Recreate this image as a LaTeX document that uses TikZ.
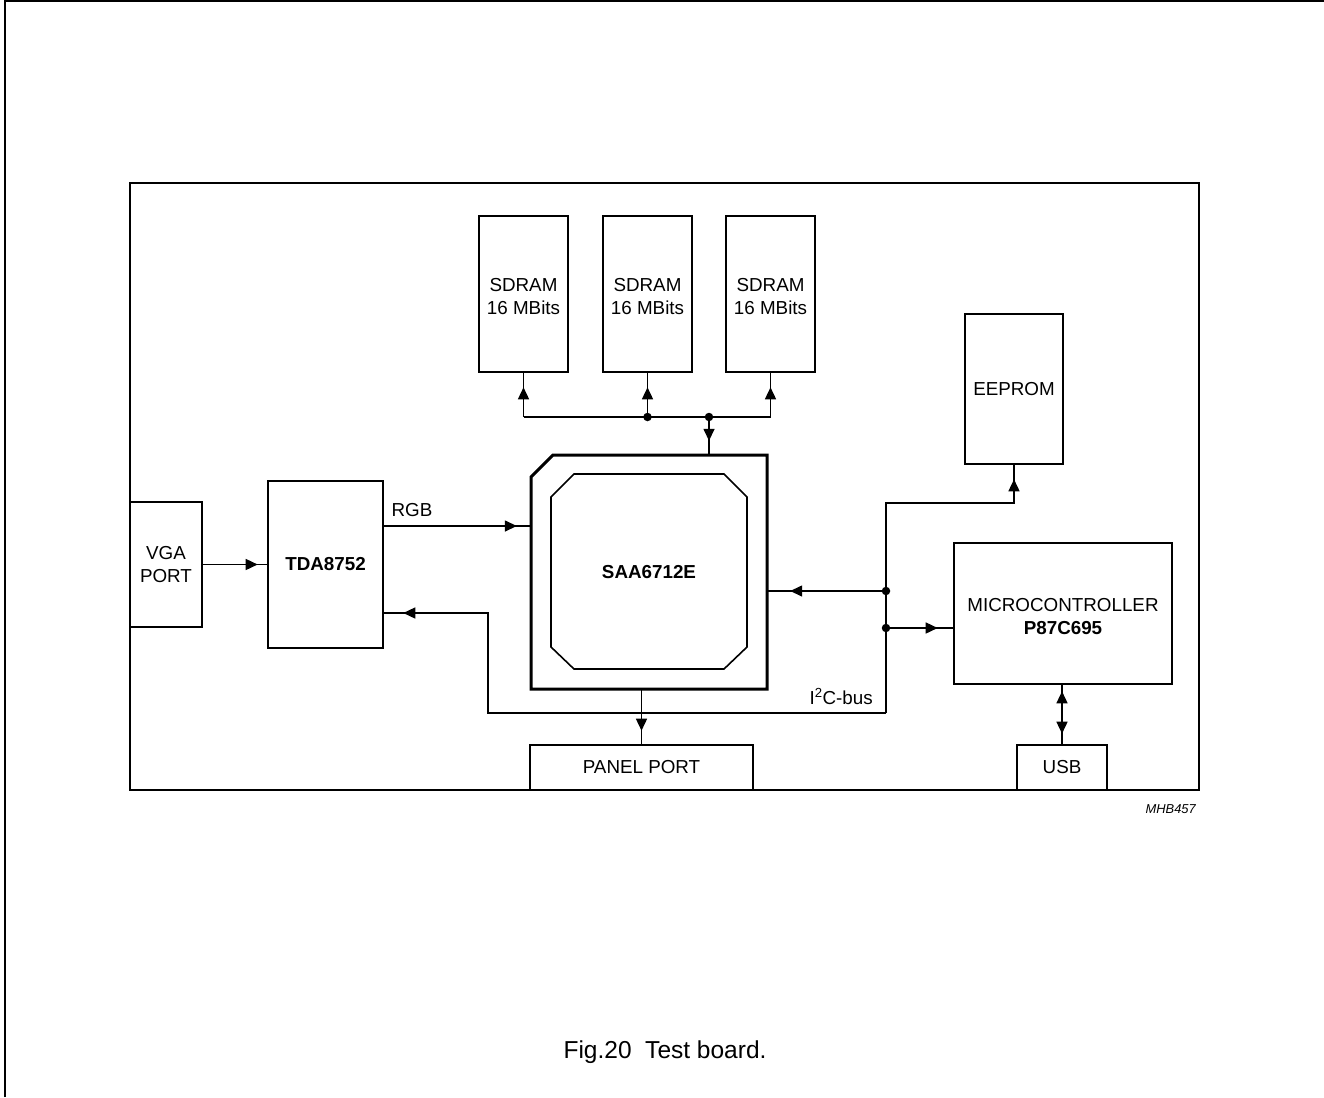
\documentclass[tikz,border=0pt]{standalone}
\usepackage{fontspec}
\setmainfont{Liberation Sans}
\usetikzlibrary{arrows.meta,decorations.markings}
\tikzset{
  box/.style={draw, line width=2.6pt, inner sep=0pt, align=center, font=\fontsize{18.8}{23}\selectfont},
  conn/.style={line width=1.5pt},
  arrmid/.style={postaction={decorate,decoration={markings,mark=at position #1 with {\arrow{Triangle[length=12pt,width=11pt]}}}}},
  arrback/.style={postaction={decorate,decoration={markings,mark=at position #1 with {\arrowreversed{Triangle[length=12pt,width=11pt]}}}}},
  jdot/.style={circle, fill, inner sep=0pt, minimum size=8.5pt},
  lbl/.style={font=\fontsize{18.8}{23}\selectfont, inner sep=0pt},
  twoline/.style={label={[lbl, align=center, yshift=-3pt]center:#1}},
}
\begin{document}
\begin{tikzpicture}[x=1pt, y=-1pt]
\useasboundingbox (0,0) rectangle (1324,1097);
% outer frame
\draw[line width=2pt] (4.5,1097) -- (4.5,1.5) -- (1324,1.5);
% board
\draw[line width=2.6pt] (130,183) rectangle (1199,790);

% blocks
\node[box, minimum width=89pt, minimum height=156pt, twoline={SDRAM\\16 MBits}] (s1) at (523.5,294) {};
\node[box, minimum width=89pt, minimum height=156pt, twoline={SDRAM\\16 MBits}] (s2) at (647.5,294) {};
\node[box, minimum width=89pt, minimum height=156pt, twoline={SDRAM\\16 MBits}] (s3) at (770.5,294) {};
\node[box, minimum width=98pt, minimum height=150pt] (eep) at (1014,389) {EEPROM};
\node[box, minimum width=72pt, minimum height=125pt] (vga) at (166,564.5) {VGA\\PORT};
\node[box, minimum width=115pt, minimum height=167pt] (tda) at (325.5,564.5) {\bfseries TDA8752};
\node[box, minimum width=218pt, minimum height=141pt, twoline={MICROCONTROLLER\\\bfseries P87C695}] (mc) at (1063,613.5) {};
\node[box, minimum width=223pt, minimum height=45pt] (pp) at (641.5,767.5) {PANEL PORT};
\node[box, minimum width=90pt, minimum height=45pt] (usb) at (1062,767.5) {USB};

% SAA chip
\node[inner sep=0pt, minimum width=236pt, minimum height=234pt, font=\fontsize{18.8}{23}\selectfont\bfseries] (saa) at (649,572) {SAA6712E};
\draw[line width=3pt] (531,477) -- (553,455) -- (767,455) -- (767,689) -- (531,689) -- cycle;
\draw[line width=1.6pt] (551,497) -- (574,474) -- (724,474) -- (747,497) -- (747,647) -- (724,669) -- (574,669) -- (551,647) -- cycle;

% SDRAM bus
\coordinate (j1) at (647.5,417);
\coordinate (j2) at (709,417);
\draw[conn] (s1.south |- j1) -- (s3.south |- j1);
\draw[conn, arrmid=-14pt] (s1.south |- j1) -- (s1.south);
\draw[conn, arrmid=-14pt] (j1) -- (s2.south);
\draw[conn, arrmid=-14pt] (s3.south |- j1) -- (s3.south);
\draw[conn, arrmid=-14pt] (j2) -- (j2 |- saa.north);
\node[jdot] at (j1) {};
\node[jdot] at (j2) {};

% RGB
\coordinate (rgb) at (400,526);
\draw[conn, arrmid=-14pt] (tda.east |- rgb) -- (saa.west |- rgb);
\node[lbl, anchor=base] (rgbl) at (412,516) {RGB};

% VGA -> TDA
\draw[conn, arrmid=-9pt] (vga.east) -- (tda.west);

% I2C bus
\coordinate (ibot) at (886,713);
\coordinate (itop) at (886,503);
\coordinate (ret) at (488,613);
\coordinate (d1) at (886,591);
\coordinate (d2) at (886,628);
\draw[conn, arrmid=-14pt] (ibot) -- (itop) -| (eep.south);
\draw[conn, arrmid=-19pt] (ibot) -| (ret) -- (tda.east |- ret);
\draw[conn, arrmid=-23pt] (d1) -- (d1 -| saa.east);
\draw[conn, arrmid=-15pt] (d2) -- (d2 -| mc.west);
\node[jdot] at (d1) {};
\node[jdot] at (d2) {};
\node[lbl, anchor=base east] (i2cl) at (873,704) {I\textsuperscript{2}C-bus};

% panel port
\draw[conn, arrmid=-13pt] (pp.north |- saa.south) -- (pp.north);

% USB
\draw[conn, arrback=6pt, arrmid=-10pt] (usb.north |- mc.south) -- (usb.north);

% labels
\node[inner sep=0pt, anchor=base east, font=\fontsize{12.9}{15}\selectfont\itshape] (code) at (1196,813) {MHB457};
\node[inner sep=0pt, anchor=base, font=\fontsize{24.5}{29}\selectfont] (cap) at (665,1058) {Fig.20\ \ Test board.};
\end{tikzpicture}
\end{document}
